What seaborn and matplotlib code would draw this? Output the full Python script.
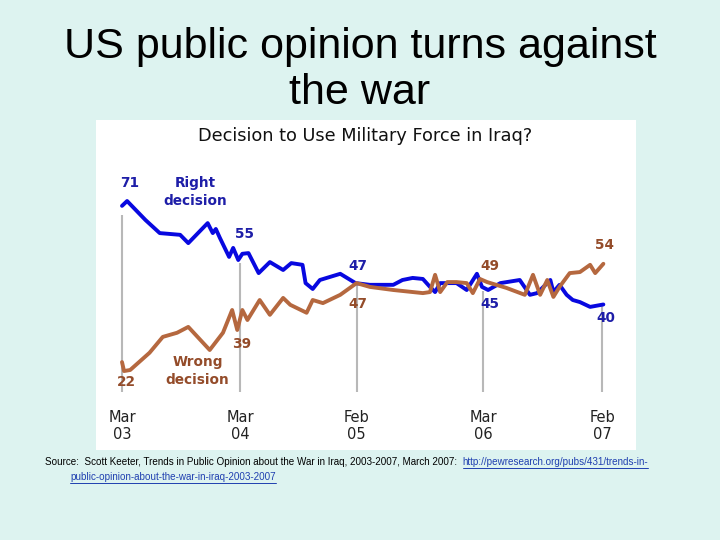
import numpy as np
import pandas as pd
import matplotlib.pyplot as plt
import seaborn as sns

# survey series (x = months since March 2003, y = percent)
right_months = [0, 0.5, 2.3, 3.7, 5.7, 6.5, 8.4, 8.9, 9.2, 9.6, 10.5, 10.9, 11.4, 11.8,
                12.4, 13.4, 14.5, 15.8, 16.6, 17.7, 18.0, 18.7, 19.4, 21.4, 22.9, 24.3,
                26.6, 27.5, 28.5, 29.5, 30.2, 30.7, 31.2, 31.9, 32.8, 33.8, 34.8, 35.3,
                35.9, 37.1, 39.0, 40.0, 40.7, 42.0, 42.3, 42.9, 43.6, 44.2, 44.9, 45.9, 47.2]
right_pct = [69.6, 71, 65.5, 61.7, 61.2, 58.8, 64.6, 61.7, 62.9, 60.3, 54.8, 57.4, 53.9, 55.7,
             55.9, 50.1, 53.3, 51.0, 53.0, 52.5, 47.2, 45.5, 48.1, 49.9, 47.2, 46.7,
             46.7, 48.1, 48.7, 48.4, 46.1, 44.6, 47.2, 47.2, 47.2, 45.2, 49.9, 46.1,
             45.2, 47.2, 48.1, 43.8, 44.3, 48.1, 44.6, 46.7, 43.8, 42.3, 41.7, 40.3, 41.0]

wrong_months = [0, 0.2, 0.8, 2.7, 4.0, 5.4, 6.5, 8.6, 9.9, 10.8, 11.3, 11.8, 12.3, 13.5,
                14.5, 15.8, 16.5, 18.1, 18.7, 19.7, 21.4, 23.0, 24.3, 26.6, 29.5, 30.2,
                30.7, 31.2, 31.9, 32.8, 33.8, 34.4, 35.1, 35.8, 37.7, 39.5, 40.3, 41.0,
                41.7, 42.3, 42.9, 43.9, 44.9, 45.9, 46.4, 47.2]
wrong_pct = [24.3, 21.7, 22.0, 27.0, 31.6, 32.8, 34.5, 27.8, 32.8, 39.4, 33.6, 39.4, 36.5, 42.3,
             38.0, 42.9, 40.9, 38.6, 42.3, 41.4, 43.8, 47.2, 46.1, 45.2, 44.3, 44.6,
             49.6, 44.6, 47.5, 47.5, 47.2, 44.3, 48.4, 47.5, 45.8, 43.8, 49.6, 43.8,
             48.1, 43.2, 46.1, 50.1, 50.4, 52.5, 50.1, 52.8]

tick_months = [0, 11.6, 23.0, 35.4, 47.1]
tick_labels = ["Mar\n03", "Mar\n04", "Feb\n05", "Mar\n06", "Feb\n07"]
guide_tops = [67, 53, 47, 45, 40.6]
guide_bottom = 15.6

BLUE = "#0808E0"
BROWN = "#B5683F"
BLUE_TXT = "#1E1EA8"
BROWN_TXT = "#944C2A"

# text, month, pct, colour
callouts = [
    ("71", 0.8, 76.2, BLUE_TXT),
    ("Right\ndecision", 7.2, 73.6, BLUE_TXT),
    ("55", 12.0, 61.4, BLUE_TXT),
    ("47", 23.1, 52.2, BLUE_TXT),
    ("47", 23.1, 41.2, BROWN_TXT),
    ("49", 36.1, 52.2, BROWN_TXT),
    ("45", 36.1, 41.2, BLUE_TXT),
    ("54", 47.3, 58.3, BROWN_TXT),
    ("40", 47.4, 37.1, BLUE_TXT),
    ("22", 0.4, 18.6, BROWN_TXT),
    ("Wrong\ndecision", 7.4, 21.7, BROWN_TXT),
    ("39", 11.7, 29.6, BROWN_TXT),
]

df = pd.concat([
    pd.DataFrame({"month": right_months, "pct": right_pct, "series": "Right decision"}),
    pd.DataFrame({"month": wrong_months, "pct": wrong_pct, "series": "Wrong decision"}),
])

sns.set_style("white")
plt.rcParams["font.family"] = ["DejaVu Sans"]

fig = plt.figure(figsize=(7.2, 5.4), dpi=100)
fig.patch.set_facecolor("#DDF3F0")

fig.text(0.5, 1 - 70 / 540, "US public opinion turns against\nthe war", ha="center", va="center",
         fontsize=31, family=["Liberation Sans"], linespacing=1.22, color="black")

ax = fig.add_axes([96 / 720, 90 / 540, 540 / 720, 330 / 540])
ax.set_facecolor("white")
for s in ax.spines.values():
    s.set_visible(False)

ax.vlines(tick_months, guide_bottom, guide_tops, color="#B8B8B8", lw=1.5, zorder=1)

sns.lineplot(data=df, x="month", y="pct", hue="series", palette=[BLUE, BROWN],
             linewidth=2.8, legend=False, ax=ax, zorder=2)

ax.set_xlim(-2.55, 50.4)
ax.set_ylim(-1.2, 94.5)
ax.set_yticks([])
ax.set_xticks(tick_months)
ax.set_xticklabels(tick_labels, fontsize=10.5, linespacing=1.2, color="#222222")
ax.tick_params(axis="x", length=0, pad=-29)
ax.set_xlabel("")
ax.set_ylabel("")

ax.text(0.499, 0.951, "Decision to Use Military Force in Iraq?", transform=ax.transAxes,
        ha="center", va="center", fontsize=12.8, color="#111111")

for txt, m, p, c in callouts:
    ax.text(m, p, txt, ha="center", va="center", fontsize=9.8, fontweight="bold",
            color=c, linespacing=1.35)

# source line with the link continuing after it
FS = 7.1
src = fig.text(45 / 720, 1 - 462 / 540, "Source:  Scott Keeter, Trends in Public Opinion about the War in Iraq, 2003-2007, March 2007:  ",
               ha="left", va="center", fontsize=FS, family=["Liberation Sans"], color="black")
fig.canvas.draw()
renderer = fig.canvas.get_renderer()
bb = src.get_window_extent(renderer)
LINK = "#1F3FB0"
url1 = fig.text(bb.x1 / fig.bbox.width, 1 - 462 / 540, "http://pewresearch.org/pubs/431/trends-in-",
                ha="left", va="center", fontsize=FS, family=["Liberation Sans"], color=LINK)
url2 = fig.text(70 / 720, 1 - 477 / 540, "public-opinion-about-the-war-in-iraq-2003-2007",
                ha="left", va="center", fontsize=FS, family=["Liberation Sans"], color=LINK)
fig.canvas.draw()
for t in (url1, url2):
    b = t.get_window_extent(renderer)
    y = b.y0 - 0.5
    fig.add_artist(plt.Line2D([b.x0, b.x1], [y, y], transform=None, color=LINK, lw=0.7))

fig.savefig("out.png", dpi=100, facecolor=fig.get_facecolor())
